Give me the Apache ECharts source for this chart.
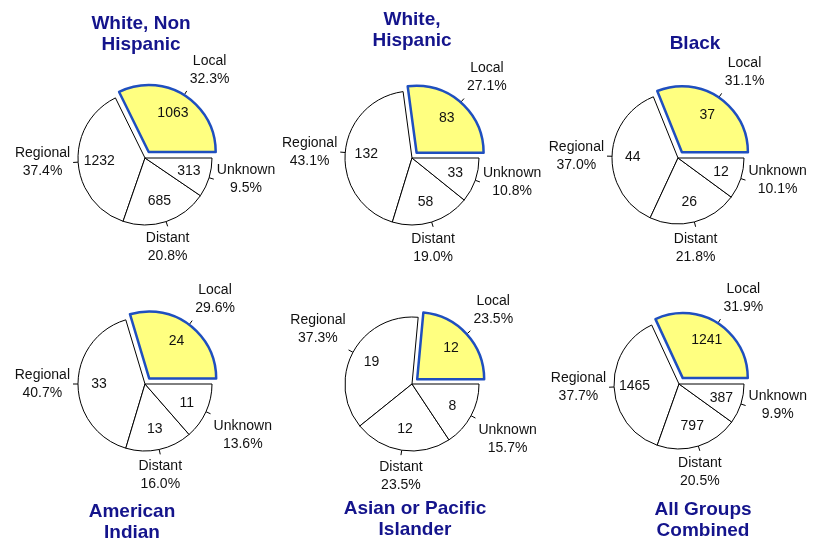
<!DOCTYPE html>
<html>
<head>
<meta charset="utf-8">
<script src="https://cdn.jsdelivr.net/npm/echarts@6.0.0/dist/echarts.min.js"></script>
<style>
  html, body { margin: 0; padding: 0; background: #fff; }
</style>
</head>
<body>
<div id="chart" style="width:817px;height:539px;"></div>
<script>
// stage of disease at diagnosis, counts per group
var stages = ['Local', 'Regional', 'Distant', 'Unknown'];
var groups = ['White, Non\nHispanic', 'White,\nHispanic', 'Black',
  'American\nIndian', 'Asian or Pacific\nIslander', 'All Groups\nCombined'];
var whiteNonHispanic = [1063, 1232, 685, 313];
var whiteHispanic = [83, 132, 58, 33];
var black = [37, 44, 26, 12];
var americanIndian = [24, 33, 13, 11];
var asianPacific = [12, 19, 12, 8];
var allGroups = [1241, 1465, 797, 387];

// where each pie sits on the page
var panels = [
  { values: whiteNonHispanic, center: [145, 158], r: 67, titleX: 141, titleY: 13 },
  { values: whiteHispanic, center: [412, 158], r: 67, titleX: 412, titleY: 9 },
  { values: black, center: [678, 158], r: 66, titleX: 695, titleY: 33 },
  { values: americanIndian, center: [145, 384], r: 67, titleX: 132, titleY: 501 },
  { values: asianPacific, center: [412, 384], r: 67, titleX: 415, titleY: 498 },
  { values: allGroups, center: [679, 384], r: 65, titleX: 703, titleY: 499 }
];

var FONT = 'Liberation Sans, Arial, sans-serif';
var EXPLODE = 7;   // offset of the Local slice
var TICK = 5;      // leader tick length
var GAP = 3;

function makeData(values, pieStyle) {
  return stages.map(function (s, i) {
    var d = { name: s, value: values[i] };
    if (i === 0) {
      d.selected = true;
      if (pieStyle) d.itemStyle = { color: '#ffff80', borderColor: '#1f4fbf', borderWidth: 2.5 };
    }
    return d;
  });
}

// put the name/percent label outside the slice, Excel style
function placeLabel(cx, cy) {
  return function (p) {
    var pts = p.labelLinePoints;
    if (!pts) return {};
    var ax = pts[0][0], ay = pts[0][1];
    var dx = ax - cx, dy = ay - cy;
    var len = Math.sqrt(dx * dx + dy * dy);
    dx /= len; dy /= len;
    if (p.dataIndex === 0) {
      ax += dx * EXPLODE;
      ay += dy * EXPLODE;
    }
    var tx = ax + dx * TICK, ty = ay + dy * TICK;
    var sx = Math.abs(dx) < 0.383 ? 0 : (dx > 0 ? 1 : -1);
    var sy = Math.abs(dy) < 0.383 ? 0 : (dy > 0 ? 1 : -1);
    var w = p.labelRect.width, h = p.labelRect.height;
    return {
      x: tx + sx * (w / 2 + GAP),
      y: ty + sy * (h / 2 + GAP),
      align: 'center',
      verticalAlign: 'middle',
      labelLinePoints: [[ax, ay], [tx, ty], [tx, ty]]
    };
  };
}

var series = [];
panels.forEach(function (pn) {
  // visible pie
  series.push({
    type: 'pie',
    silent: true,
    center: pn.center,
    radius: pn.r,
    startAngle: 0,
    clockwise: false,
    selectedMode: 'single',
    selectedOffset: EXPLODE,
    itemStyle: { color: '#fff', borderColor: '#000', borderWidth: 1 },
    select: { itemStyle: { color: '#ffff80', borderColor: '#1f4fbf', borderWidth: 2.5 } },
    label: { show: false },
    labelLine: { show: false },
    data: makeData(pn.values, true)
  });
  // counts inside the slices
  series.push({
    type: 'pie',
    silent: true,
    center: pn.center,
    radius: [pn.r * 0.28, pn.r],
    startAngle: 0,
    clockwise: false,
    selectedMode: 'single',
    selectedOffset: EXPLODE,
    itemStyle: { color: 'rgba(0,0,0,0)', borderWidth: 0 },
    select: { itemStyle: { color: 'rgba(0,0,0,0)', borderWidth: 0 } },
    label: {
      show: true, position: 'inside', formatter: '{c}',
      color: '#111', fontSize: 14, fontFamily: FONT
    },
    labelLine: { show: false },
    data: makeData(pn.values, false)
  });
  // name + percent outside
  series.push({
    type: 'pie',
    silent: true,
    center: pn.center,
    radius: pn.r,
    startAngle: 0,
    clockwise: false,
    avoidLabelOverlap: false,
    percentPrecision: 4,
    itemStyle: { color: 'rgba(0,0,0,0)', borderWidth: 0 },
    label: {
      show: true, position: 'outside',
      color: '#111', fontSize: 14, lineHeight: 18, fontFamily: FONT,
      formatter: function (p) {
        return p.name + '\n' + p.percent.toFixed(1) + '%';
      }
    },
    labelLine: { show: true, length: TICK, length2: 0, lineStyle: { color: '#000', width: 1 } },
    labelLayout: placeLabel(pn.center[0], pn.center[1]),
    data: stages.map(function (s, i) { return { name: s, value: pn.values[i] }; })
  });
});

var chart = echarts.init(document.getElementById('chart'));
chart.setOption({
  animation: false,
  backgroundColor: '#fff',
  textStyle: { fontFamily: FONT },
  title: panels.map(function (pn, i) {
    return {
      text: groups[i],
      left: pn.titleX,
      top: pn.titleY,
      textAlign: 'center',
      padding: 0,
      textStyle: { fontSize: 19, fontWeight: 'bold', color: '#14148c', lineHeight: 21, fontFamily: FONT }
    };
  }),
  series: series
});
window.onresize = function () { chart.resize(); };
</script>
</body>
</html>
